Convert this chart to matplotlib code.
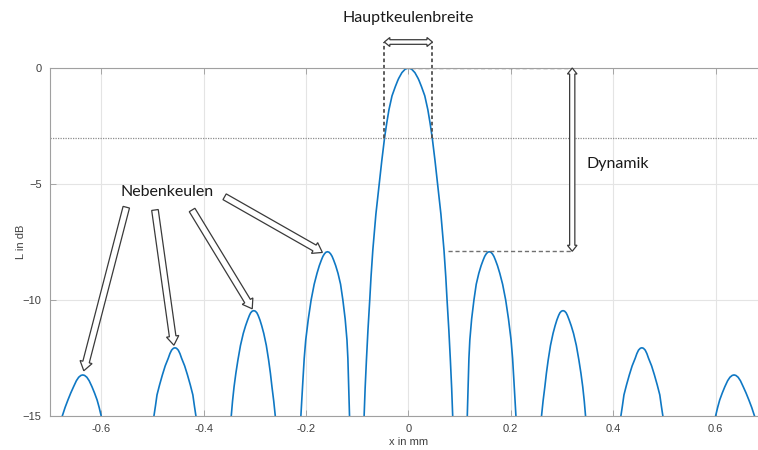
import matplotlib
matplotlib.use('Agg')
import matplotlib.pyplot as plt
import numpy as np
from matplotlib.patches import Polygon
from matplotlib.transforms import IdentityTransform

# main lobe (half widths in mm at each level, symmetric)
main_half_width = [0.0, 0.0063, 0.0127, 0.019, 0.021, 0.0255, 0.032, 0.038, 0.0425, 0.0465,
                   0.052, 0.057, 0.0635, 0.0695, 0.073, 0.0755, 0.079, 0.082, 0.0845, 0.0865]
main_level = [0.0, -0.05, -0.2, -0.45, -0.55, -0.8, -1.2, -1.8, -2.4, -3.0,
              -4.0, -5.0, -6.3, -7.85, -9.0, -10.0, -11.3, -12.6, -13.8, -15.0]

# side lobes on the negative side; the pattern is symmetric so the
# positive side uses the same values mirrored
side_x = [
    [-0.210, -0.208, -0.206, -0.2035, -0.2005, -0.1955, -0.190, -0.184, -0.1785, -0.174,
     -0.170, -0.167, -0.164, -0.161, -0.158, -0.155, -0.152, -0.149, -0.146, -0.142,
     -0.1375, -0.1325, -0.128, -0.1235, -0.120, -0.1182, -0.117, -0.116, -0.115],
    [-0.346, -0.3435, -0.3405, -0.337, -0.333, -0.328, -0.3225, -0.318, -0.314, -0.3105,
     -0.308, -0.305, -0.302, -0.299, -0.296, -0.2935, -0.290, -0.2865, -0.2825, -0.2775,
     -0.273, -0.2695, -0.2665, -0.263, -0.260],
    [-0.497, -0.494, -0.491, -0.486, -0.4805, -0.475, -0.469, -0.4658, -0.4625, -0.459,
     -0.456, -0.453, -0.4495, -0.4462, -0.443, -0.437, -0.4315, -0.426, -0.421, -0.418, -0.415],
    [-0.676, -0.6705, -0.665, -0.6595, -0.654, -0.6485, -0.644, -0.6395, -0.636,
     -0.6325, -0.628, -0.6235, -0.618, -0.613, -0.608, -0.604, -0.600],
]
side_L = [
    [-15.0, -14.22, -13.45, -12.52, -11.72, -10.82, -10.0, -9.32, -8.85, -8.52,
     -8.28, -8.12, -8.01, -7.94, -7.92, -7.94, -8.01, -8.12, -8.28, -8.52,
     -8.85, -9.32, -10.0, -10.82, -11.72, -12.52, -13.45, -14.22, -15.0],
    [-15.0, -14.36, -13.74, -13.16, -12.59, -11.96, -11.44, -11.11, -10.86, -10.66,
     -10.55, -10.48, -10.46, -10.48, -10.55, -10.66, -10.86, -11.11, -11.44, -11.96,
     -12.59, -13.16, -13.74, -14.36, -15.0],
    [-15.0, -14.56, -14.09, -13.66, -13.23, -12.84, -12.51, -12.31, -12.16, -12.08,
     -12.06, -12.08, -12.16, -12.31, -12.51, -12.84, -13.23, -13.66, -14.09, -14.56, -15.0],
    [-15.0, -14.63, -14.31, -14.01, -13.74, -13.48, -13.33, -13.25, -13.23,
     -13.25, -13.33, -13.48, -13.74, -14.01, -14.31, -14.63, -15.0],
]

xticks = [-0.6, -0.4, -0.2, 0, 0.2, 0.4, 0.6]
xticklabels = ['-0.6', '-0.4', '-0.2', '0', '0.2', '0.4', '0.6']
yticks = [-15, -10, -5, 0]

half_power = -3.0          # dB line
beam_edges = [-0.047, 0.047]
first_side_peak = -7.9
dyn_x = 0.32

# arrow tails / tips for the "Nebenkeulen" pointers (data coords)
neben_tail = [(-0.551, -6.0), (-0.495, -6.12), (-0.4225, -6.12), (-0.359, -5.55)]
neben_tip = [(-0.634, -13.05), (-0.458, -11.95), (-0.305, -10.38), (-0.168, -7.95)]

LINE = '#0f78c4'
ARROW_EDGE = '#3a3a3a'


def block_arrow(fig, ax, p0, p1, shaft=3.0, head_w=5.5, head_len=8.0, both=False):
    # outlined (hollow) block arrow, built in pixel space so it keeps its shape
    a = ax.transData.transform(p0)
    b = ax.transData.transform(p1)
    d = b - a
    u = d / np.hypot(*d)
    v = np.array([-u[1], u[0]])
    hb = b - u * head_len
    if both:
        ha = a + u * head_len
        pts = [a, ha + v * head_w, ha + v * shaft, hb + v * shaft, hb + v * head_w, b,
               hb - v * head_w, hb - v * shaft, ha - v * shaft, ha - v * head_w]
    else:
        pts = [a + v * shaft, hb + v * shaft, hb + v * head_w, b,
               hb - v * head_w, hb - v * shaft, a - v * shaft]
    poly = Polygon(np.array(pts), closed=True, facecolor='white', edgecolor=ARROW_EDGE,
                   linewidth=0.9, transform=IdentityTransform(), zorder=5)
    fig.add_artist(poly)


fig = plt.figure(figsize=(7.58, 4.5), dpi=100)
fig.patch.set_facecolor('white')
ax = fig.add_axes([50 / 758, 34 / 450, 716.8 / 758, 348 / 450])

main_x = [-w for w in main_half_width[::-1]] + main_half_width[1:]
main_L = main_level[::-1] + main_level[1:]
ax.plot(main_x, main_L, color=LINE, linewidth=1.2, solid_joinstyle='round')
for xs, ls in zip(side_x, side_L):
    ax.plot(xs, ls, color=LINE, linewidth=1.2, solid_joinstyle='round')
    ax.plot([-x for x in xs], ls, color=LINE, linewidth=1.2, solid_joinstyle='round')

ax.set_xlim(-0.7, 0.7)
ax.set_ylim(-15, 0)
ax.set_xticks(xticks)
ax.set_xticklabels(xticklabels)
ax.set_yticks(yticks)
ax.grid(True, color='#e4e4e4', linewidth=0.8)
ax.set_axisbelow(True)
ax.tick_params(direction='in', top=True, right=True, length=4, width=0.6,
               color='#9a9a9a', labelcolor='#404040', labelsize=8, pad=6)
for sp in ax.spines.values():
    sp.set_color('#a0a0a0')
    sp.set_linewidth(0.8)
for lab in ax.get_xticklabels() + ax.get_yticklabels():
    lab.set_family('Liberation Sans')

ax.set_xlabel('x in mm', fontsize=8, color='#404040', family='Liberation Sans', labelpad=2)
ax.set_ylabel('L in dB', fontsize=8, color='#404040', family='Liberation Sans', labelpad=-2)

# -3 dB line
ax.axhline(half_power, color='#8c8c8c', linestyle=(0, (1, 1)), linewidth=0.9)

# main lobe width markers
for bx in beam_edges:
    ax.plot([bx, bx], [half_power, 1.1], color='#505050', linestyle=(0, (2, 1.5)),
            linewidth=1.3, clip_on=False)
block_arrow(fig, ax, (beam_edges[0], 1.12), (beam_edges[1], 1.12),
            shaft=2.3, head_w=4.5, head_len=5.5, both=True)
ax.text(0.0, 2.15, 'Hauptkeulenbreite', ha='center', va='center', fontsize=11.5,
        family='Lato', color='#1a1a1a', clip_on=False)

# dynamic range markers
ax.plot([0.006, dyn_x], [0, 0], color='#707070', linestyle=(0, (3, 2)), linewidth=1.0)
ax.plot([0.078, dyn_x], [first_side_peak, first_side_peak], color='#707070',
        linestyle=(0, (3, 2)), linewidth=1.0)
block_arrow(fig, ax, (dyn_x, 0), (dyn_x, first_side_peak),
            shaft=2.6, head_w=4.8, head_len=6.0, both=True)
ax.text(0.408, -4.14, 'Dynamik', ha='center', va='center', fontsize=11.5,
        family='Lato', color='#1a1a1a')

# side lobe pointers
for t0, t1 in zip(neben_tail, neben_tip):
    block_arrow(fig, ax, t0, t1, shaft=3.3, head_w=6.2, head_len=9.0)
ax.text(-0.471, -5.34, 'Nebenkeulen', ha='center', va='center', fontsize=11.5,
        family='Lato', color='#1a1a1a')

fig.savefig('out.png', dpi=100)
plt.close(fig)
